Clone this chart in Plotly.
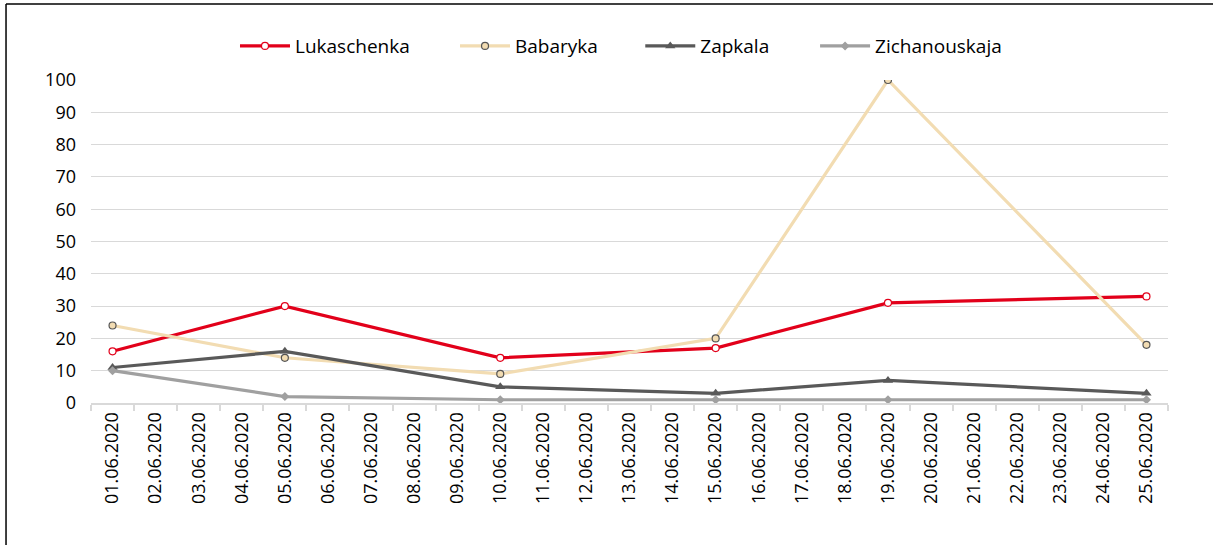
import plotly.graph_objects as go

dates = [f"{d:02d}.06.2020" for d in range(1, 26)]
obs_dates = ["01.06.2020", "05.06.2020", "10.06.2020", "15.06.2020", "19.06.2020", "25.06.2020"]
lukaschenka = [16, 30, 14, 17, 31, 33]
babaryka = [24, 14, 9, 20, 100, 18]
zapkala = [11, 16, 5, 3, 7, 3]
zichanouskaja = [10, 2, 1, 1, 1, 1]
y_ticks = [0, 10, 20, 30, 40, 50, 60, 70, 80, 90, 100]

def expand(vals):
    m = dict(zip(obs_dates, vals))
    return [m.get(d) for d in dates]

FONT = "Open Sans"
fig = go.Figure()
series = [
    ("Lukaschenka", lukaschenka, "#E2001A", dict(symbol="circle", size=7, color="white", line=dict(color="#E2001A", width=1.2)), "legend"),
    ("Babaryka", babaryka, "#F2DCB2", dict(symbol="circle", size=7, color="#F2DCB2", line=dict(color="#555555", width=1.2)), "legend2"),
    ("Zapkala", zapkala, "#595959", dict(symbol="triangle-up", size=9, color="#595959"), "legend3"),
    ("Zichanouskaja", zichanouskaja, "#A0A0A0", dict(symbol="diamond", size=7, color="#A0A0A0"), "legend4"),
]
for name, vals, col, mk, lg in series:
    fig.add_trace(go.Scatter(
        x=dates, y=expand(vals), name=name, mode="lines+markers",
        connectgaps=True, line=dict(color=col, width=3.2), marker=mk, legend=lg,
    ))

def leg(x):
    return dict(orientation="h", x=x, xanchor="left", y=1.105, yanchor="middle",
                bgcolor="rgba(0,0,0,0)", font=dict(family=FONT, size=19), itemwidth=50)

fig.update_layout(
    width=1213, height=546,
    margin=dict(l=91, r=45, t=80, b=143, autoexpand=False),
    paper_bgcolor="white", plot_bgcolor="white",
    font=dict(family=FONT, size=18, color="#000000"),
    showlegend=True,
    legend=leg(0.1337), legend2=leg(0.3380), legend3=leg(0.5100), legend4=leg(0.6723),
    xaxis=dict(type="category", categoryorder="array", categoryarray=dates, automargin=False,
               range=[-0.5, 24.5],
               tickangle=-90, showgrid=False, showline=True, linecolor="#D9D9D9", linewidth=2,
               ticks="outside", tickson="boundaries", ticklen=6, tickcolor="#D9D9D9", tickwidth=1.5,
               tickfont=dict(family=FONT, size=18)),
    yaxis=dict(range=[0, 100], tickvals=y_ticks, showgrid=True, gridcolor="#D9D9D9", gridwidth=1,
               zeroline=False, showline=False, ticks="", automargin=False,
               tickfont=dict(family=FONT, size=18), ticklabelstandoff=14),
    shapes=[
        dict(type="line", xref="paper", yref="paper", x0=-0.0789, x1=-0.0789, y0=1.235, y1=-0.44,
             line=dict(color="black", width=1.5)),
        dict(type="line", xref="paper", yref="paper", x0=-0.0789, x1=1.05, y0=1.235, y1=1.235,
             line=dict(color="black", width=1.5)),
    ],
)
fig.write_html("out.html", config={"displayModeBar": False},
               post_script="document.body.style.margin='0';")
